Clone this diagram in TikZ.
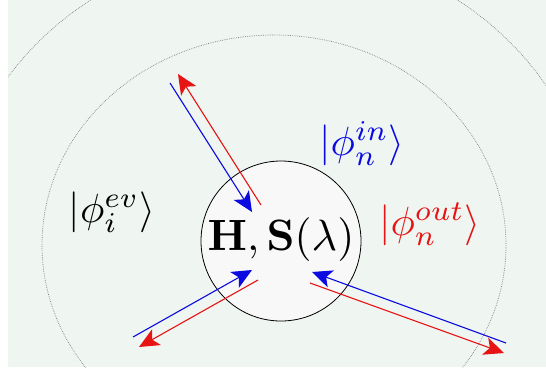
\documentclass[tikz,border=0pt]{standalone}
\usetikzlibrary{arrows.meta}
\definecolor{bg}{RGB}{239,245,241}
\definecolor{inblue}{RGB}{10,10,225}
\definecolor{outred}{RGB}{230,20,20}
\definecolor{cfill}{RGB}{247,248,247}
\begin{document}
\begin{tikzpicture}[x=1bp,y=-1bp,
  ket/.style={inner sep=0pt, scale=4.1},
  core/.style={circle, draw=black, line width=0.8bp, fill=cfill, minimum size=160bp, inner sep=0pt},
  corelabel/.style={inner sep=0pt, scale=4.4},
  orbit/.style={gray, line width=0.7bp, dash pattern=on 0.7bp off 1.1bp},
  tipshape/.style={-{Stealth[length=20bp,width=18bp,inset=5bp]}},
  inarrow/.style={inblue, line width=1.1bp, tipshape},
  outarrow/.style={outred, line width=1.1bp, tipshape}]
\useasboundingbox (0,0) rectangle (546,367);
\fill[bg] (8,0) rectangle (546,367);
\begin{scope}
  \clip (8,0) rectangle (546,367);
  \draw[orbit] (274,245) ellipse [x radius=232, y radius=210];
  \draw[orbit] (274,245) ellipse [x radius=322, y radius=298];
\end{scope}
\node[core] (hs) at (281,241) {};
\node[corelabel] (hslabel) at (281,240) {$\mathbf{H},\mathbf{S}(\lambda)$};
\node[ket] (ev) at (112,212) {$|\phi_i^{ev}\rangle$};
\node[ket, text=inblue] (in) at (362,144) {$|\phi_n^{in}\rangle$};
\node[ket, text=outred] (out) at (430,224) {$|\phi_n^{out}\rangle$};
\coordinate (a1s) at (170,83);  \coordinate (a1e) at (252,212);
\coordinate (r1s) at (261,205); \coordinate (r1e) at (178,74);
\coordinate (a2s) at (133,337); \coordinate (a2e) at (252,270);
\coordinate (r2s) at (258,280); \coordinate (r2e) at (139,347);
\coordinate (a3s) at (506,343); \coordinate (a3e) at (312,272);
\coordinate (r3s) at (310,283); \coordinate (r3e) at (504,353);
\draw[inarrow] (a1s) -- (a1e);
\draw[outarrow] (r1s) -- (r1e);
\draw[inarrow] (a2s) -- (a2e);
\draw[outarrow] (r2s) -- (r2e);
\draw[inarrow] (a3s) -- (a3e);
\draw[outarrow] (r3s) -- (r3e);
\end{tikzpicture}
\end{document}
